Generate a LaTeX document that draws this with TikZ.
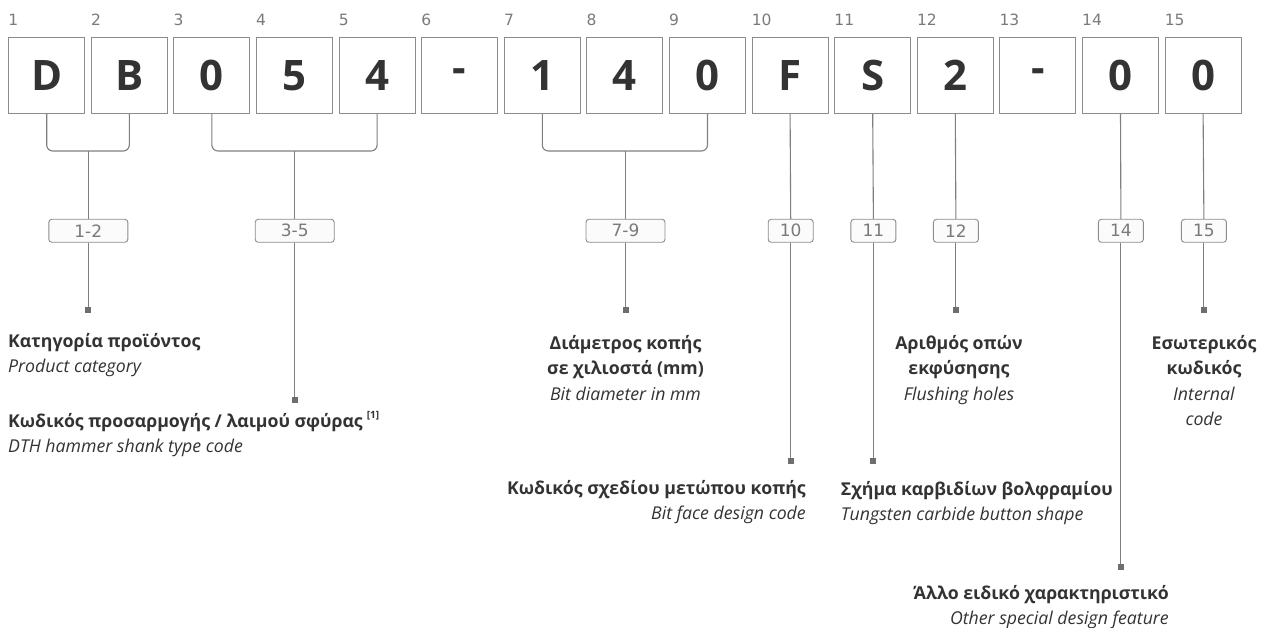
\documentclass[tikz,border=0pt]{standalone}
\usepackage{fontspec}
\setmainfont{Open Sans}
\newfontfamily\idxfont{DejaVu Sans}
\definecolor{boxline}{HTML}{8C8C8C}
\definecolor{conn}{HTML}{7F7F7F}
\definecolor{txt}{HTML}{333333}
\definecolor{idx}{HTML}{7A7A7A}
\definecolor{markc}{HTML}{6E6E6E}
\definecolor{labfill}{HTML}{FBFBFB}
\tikzset{
  charbox/.style={draw=boxline, line width=1pt, minimum width=76, minimum height=76, inner sep=0pt,
    font=\fontsize{42}{42}\selectfont\bfseries, text=txt},
  idxnum/.style={anchor=base west, inner sep=0pt, font=\idxfont\fontsize{15.5}{15.5}\selectfont, text=idx},
  lab/.style={draw=boxline, fill=labfill, line width=0.9pt, rounded corners=3pt, minimum height=23,
    inner sep=0pt, font=\idxfont\fontsize{17}{17}\selectfont, text=idx},
  conn/.style={draw=conn, line width=1.1pt},
  markbox/.style={fill=markc, minimum size=6, inner sep=0pt},
  desc/.style={inner sep=0pt, font=\fontsize{17.7}{25.5}\selectfont, text=txt}
}
\begin{document}
\begin{tikzpicture}[x=1pt,y=-1pt]
\useasboundingbox (0,0) rectangle (1271,628);
% character boxes
\foreach \i/\c in {1/D,2/B,3/0,4/5,5/4,6/-,7/1,8/4,9/0,10/F,11/S,12/2,13/-,14/0,15/0}{
  \node[charbox] (b\i) at ({46.7+(\i-1)*82.6},75.7) {\c};
  \node[idxnum] (n\i) at (b\i.north west |- 0,25.7) {\i};
}
% labels
\node[lab, minimum width=79] (l12) at (88.3,230.8) {1-2};
\node[lab, minimum width=79] (l35) at (294.7,230.8) {3-5};
\node[lab, minimum width=79] (l79) at (625.5,230.8) {7-9};
\node[lab, minimum width=45] (l10) at (790.7,230.8) {10};
\node[lab, minimum width=45] (l11) at (873.4,230.8) {11};
\node[lab, minimum width=45] (l12b) at (955.9,230.8) {12};
\node[lab, minimum width=45] (l14) at (1120.9,230.8) {14};
\node[lab, minimum width=45] (l15) at (1203.9,230.8) {15};
% markers
\node[markbox] (m12) at (88.3,310) {};
\node[markbox] (m35) at (294.7,400) {};
\node[markbox] (m79) at (625.5,310) {};
\node[markbox] (m10) at (790.7,461) {};
\node[markbox] (m11) at (873.4,461) {};
\node[markbox] (m12b) at (955.9,310) {};
\node[markbox] (m14) at (1120.9,566.7) {};
\node[markbox] (m15) at (1203.9,310) {};
% brackets
\draw[conn, rounded corners=6pt] (b1.south) |- (b2.south |- 0,151) -- (b2.south);
\draw[conn, rounded corners=6pt] (b3.south) |- (b5.south |- 0,151) -- (b5.south);
\draw[conn, rounded corners=6pt] (b7.south) |- (b9.south |- 0,151) -- (b9.south);
\draw[conn] (l12.north |- 0,151) -- (l12.north);
\draw[conn] (l35.north |- 0,151) -- (l35.north);
\draw[conn] (l79.north |- 0,151) -- (l79.north);
% single stems
\draw[conn] (b10.south) -- (l10.north);
\draw[conn] (b11.south) -- (l11.north);
\draw[conn] (b12.south) -- (l12b.north);
\draw[conn] (b14.south) -- (l14.north);
\draw[conn] (b15.south) -- (l15.north);
% label to marker
\draw[conn] (l12.south) -- (m12.north);
\draw[conn] (l35.south) -- (m35.north);
\draw[conn] (l79.south) -- (m79.north);
\draw[conn] (l10.south) -- (m10.north);
\draw[conn] (l11.south) -- (m11.north);
\draw[conn] (l12b.south) -- (m12b.north);
\draw[conn] (l14.south) -- (m14.north);
\draw[conn] (l15.south) -- (m15.north);
% descriptions
\node[desc, anchor=north west, align=left] (t1) at (8,333)
  {\textbf{Κατηγορία προϊόντος}\\\textit{Product category}};
\node[desc, anchor=north west, align=left] (t2) at (8,411)
  {\textbf{Κωδικός προσαρμογής / λαιμού σφύρας}\hspace{4pt}\raisebox{9pt}{\fontsize{10}{10}\selectfont\bfseries [1]}\\\textit{DTH hammer shank type code}};
\node[desc, anchor=north, align=center] (t3) at (625.5,335)
  {\textbf{Διάμετρος κοπής}\\\textbf{σε χιλιοστά (mm)}\\\textit{Bit diameter in mm}};
\node[desc, anchor=north, align=center] (t4) at (959,335)
  {\textbf{Αριθμός οπών}\\\textbf{εκφύσησης}\\\textit{Flushing holes}};
\node[desc, anchor=north, align=center] (t5) at (1204,335)
  {\textbf{Εσωτερικός}\\\textbf{κωδικός}\\\textit{Internal}\\\textit{code}};
\node[desc, anchor=north east, align=right] (t6) at (806,480)
  {\textbf{Κωδικός σχεδίου μετώπου κοπής}\\\textit{Bit face design code}};
\node[desc, anchor=north west, align=left] (t7) at (840.7,481)
  {\textbf{Σχήμα καρβιδίων βολφραμίου}\\\textit{Tungsten carbide button shape}};
\node[desc, anchor=north east, align=right] (t8) at (1169,585)
  {\textbf{Άλλο ειδικό χαρακτηριστικό}\\\textit{Other special design feature}};
\end{tikzpicture}
\end{document}
